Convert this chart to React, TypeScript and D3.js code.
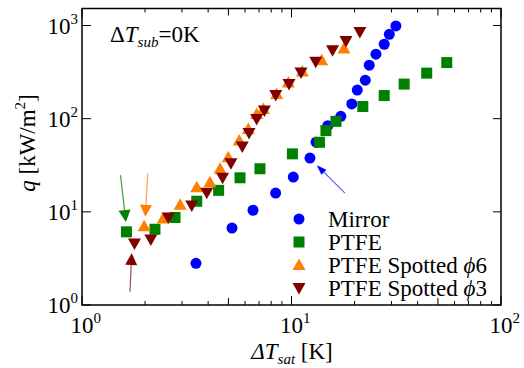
import React from "react";
import * as d3 from "d3";

const mirrorX = [3.5, 5.2, 6.55, 8.4, 10.2, 12.25, 13.1, 14.9, 17.2, 19.4, 20.6, 22.5, 23.5, 25.3, 27.7, 29.3, 31.5];
const mirrorY = [2.8, 6.7, 10.4, 15.9, 23.6, 37.8, 56, 84, 106, 144, 203, 259, 375, 492, 629, 805, 990];

const ptfeX = [1.63, 2.23, 2.78, 3.53, 4.49, 5.68, 7.07, 10.1, 13.6, 14.6, 16.3, 21.9, 27.7, 34.5, 44.2, 55.1];
const ptfeY = [6.1, 6.5, 8.7, 13.0, 17.0, 23.2, 29.0, 41.9, 55.8, 74.4, 93.6, 135, 177, 235, 308, 400];

const spot6X = [1.98, 2.44, 2.94, 3.53, 4.08, 4.56, 4.99, 5.63, 6.22, 6.82, 7.34, 8.5, 9.66, 11.27, 13.94, 17.8];
const spot6Y = [7.0, 8.46, 11.9, 18.4, 20.8, 29.0, 38.6, 58.2, 77.6, 112, 127, 184, 245, 320, 424, 565];

const spot3X = [1.78, 2.13, 2.58, 3.34, 3.94, 4.69, 5.14, 5.82, 6.27, 6.82, 7.42, 8.41, 9.73, 11.1, 13.05, 15.7, 18.2, 21.2];
const spot3Y = [4.57, 5.04, 8.67, 11.7, 16.0, 23.2, 33.3, 50.2, 70.3, 99.3, 122, 179, 235, 313, 407, 543, 683, 851];

const arrowGreen = [1.527, 24.7, 1.62, 7.76];
const arrowOrange = [2.06, 25.8, 2.005, 8.84];
const arrowMaroon = [1.695, 1.39, 1.727, 3.61];
const arrowBlue = [18.0, 15.9, 13.2, 31.7];

const xTickMajors = [1, 10, 100];
const yTickMajors = [1, 10, 100, 1000];
const tickExps = ["0", "1", "2", "3"];

const legendLabels = ["Mirror", "PTFE", "PTFE Spotted ", "PTFE Spotted "];
const legendSuffix = ["", "", "6", "3"];

const C_BLUE = "#0000ff";
const C_GREEN = "#008000";
const C_ORANGE = "#ff8000";
const C_MAROON = "#7f0000";

const L = 82, R = 501, T = 8.5, B = 305;

export default function App() {
  const ref = React.useRef<SVGSVGElement>(null);

  React.useEffect(() => {
    const svg = d3.select(ref.current);
    svg.selectAll("*").remove();
    const x = d3.scaleLog().domain([1, 100]).range([L, R]);
    const y = d3.scaleLog().domain([1, 1000]).range([B, 25.5]);

    svg.append("rect").attr("width", 524).attr("height", 368).attr("fill", "#fff");

    const circle = (g: any, cx: number, cy: number, c: string) =>
      g.append("circle").attr("cx", cx).attr("cy", cy).attr("r", 5.5).attr("fill", c);
    const square = (g: any, cx: number, cy: number, c: string) =>
      g.append("rect").attr("x", cx - 5.5).attr("y", cy - 5.5).attr("width", 11).attr("height", 11).attr("fill", c);
    const triUp = (g: any, cx: number, cy: number, c: string) =>
      g.append("path").attr("d", `M${cx},${cy - 6.5}L${cx + 6.5},${cy + 5}L${cx - 6.5},${cy + 5}Z`).attr("fill", c);
    const triDown = (g: any, cx: number, cy: number, c: string) =>
      g.append("path").attr("d", `M${cx},${cy + 6.5}L${cx + 6.5},${cy - 5}L${cx - 6.5},${cy - 5}Z`).attr("fill", c);

    mirrorX.forEach((v, i) => circle(svg, x(v), y(mirrorY[i]), C_BLUE));
    ptfeX.forEach((v, i) => square(svg, x(v), y(ptfeY[i]), C_GREEN));
    spot6X.forEach((v, i) => triUp(svg, x(v), y(spot6Y[i]), C_ORANGE));
    spot3X.forEach((v, i) => triDown(svg, x(v), y(spot3Y[i]), C_MAROON));

    const arrow = (a: number[], c: string, len: number, half: number, lineColor: string) => {
      const x0 = x(a[0]), y0 = y(a[1]), x1 = x(a[2]), y1 = y(a[3]);
      const ang = Math.atan2(y1 - y0, x1 - x0);
      const bx = x1 - len * Math.cos(ang), by = y1 - len * Math.sin(ang);
      const px = -Math.sin(ang) * half, py = Math.cos(ang) * half;
      svg.append("line").attr("x1", x0).attr("y1", y0).attr("x2", bx).attr("y2", by)
        .attr("stroke", lineColor).attr("stroke-width", 1.2);
      svg.append("path").attr("d", `M${x1},${y1}L${bx + px},${by + py}L${bx - px},${by - py}Z`).attr("fill", c);
    };
    arrow(arrowGreen, C_GREEN, 12, 6, "#3a9a3a");
    arrow(arrowOrange, C_ORANGE, 12, 6, "#ffa050");
    arrow(arrowMaroon, C_MAROON, 12, 6, "#a04848");
    arrow(arrowBlue, C_BLUE, 10, 3.5, "#5a5aff");

    svg.append("rect").attr("x", L).attr("y", T).attr("width", R - L).attr("height", B - T)
      .attr("fill", "none").attr("stroke", "#000").attr("stroke-width", 1.5);

    const tick = (x1: number, y1: number, x2: number, y2: number) =>
      svg.append("line").attr("x1", x1).attr("y1", y1).attr("x2", x2).attr("y2", y2)
        .attr("stroke", "#000").attr("stroke-width", 1);
    xTickMajors.forEach((v) => { tick(x(v), B, x(v), B - 9); tick(x(v), T, x(v), T + 9); });
    for (let d = 1; d < 100; d *= 10) for (let m = 2; m <= 9; m++) {
      const v = d * m; const len = m === 5 ? 7 : 4;
      tick(x(v), B, x(v), B - len); tick(x(v), T, x(v), T + len);
    }
    yTickMajors.forEach((v) => { tick(L, y(v), L + 9, y(v)); tick(R, y(v), R - 8, y(v)); });

    const txt = (px: number, py: number, anchor = "start") =>
      svg.append("text").attr("x", px).attr("y", py).attr("text-anchor", anchor)
        .attr("font-size", 23).attr("fill", "#000")
        .style("font-family", '"Liberation Serif"');

    yTickMajors.forEach((v, i) => {
      const t = txt(78, y(v) + 8, "end");
      t.append("tspan").text("10");
      t.append("tspan").attr("font-size", 15).attr("dy", -10).text(tickExps[i]);
    });
    xTickMajors.forEach((v, i) => {
      const t = txt(x(v) - 11.5, 333);
      t.append("tspan").text("10");
      t.append("tspan").attr("font-size", 15).attr("dy", -10).text(tickExps[i]);
    });
    {
      const t = txt(292, 359, "middle");
      t.append("tspan").attr("font-style", "italic").text("ΔT");
      t.append("tspan").attr("font-style", "italic").attr("font-size", 15).attr("dy", 5).text("sat");
      t.append("tspan").attr("dy", -5).text(" [K]");
    }
    {
      const t = txt(0, 0, "middle").attr("transform", "translate(35,143) rotate(-90)");
      t.append("tspan").attr("font-style", "italic").text("q");
      t.append("tspan").text(" [kW/m");
      t.append("tspan").attr("font-size", 15).attr("dy", -10).text("2");
      t.append("tspan").attr("dy", 10).text("]");
    }
    {
      const t = txt(110, 42);
      t.append("tspan").text("Δ");
      t.append("tspan").attr("font-style", "italic").text("T");
      t.append("tspan").attr("font-style", "italic").attr("font-size", 15).attr("dy", 5).text("sub");
      t.append("tspan").attr("dy", -5).text("=0K");
    }
    legendLabels.forEach((lab, i) => {
      const ly = 219 + i * 23;
      if (i === 0) circle(svg, 299, ly, C_BLUE);
      else if (i === 1) square(svg, 299, ly, C_GREEN);
      else if (i === 2) triUp(svg, 299, ly, C_ORANGE);
      else triDown(svg, 299, ly, C_MAROON);
      const t = txt(328, ly + 8);
      t.append("tspan").text(lab);
      if (legendSuffix[i]) {
        t.append("tspan").attr("font-style", "italic").text("ϕ");
        t.append("tspan").text(legendSuffix[i]);
      }
    });
  }, []);

  return <svg ref={ref} width={524} height={368} style={{ position: "absolute", left: 0, top: 0 }} />;
}
